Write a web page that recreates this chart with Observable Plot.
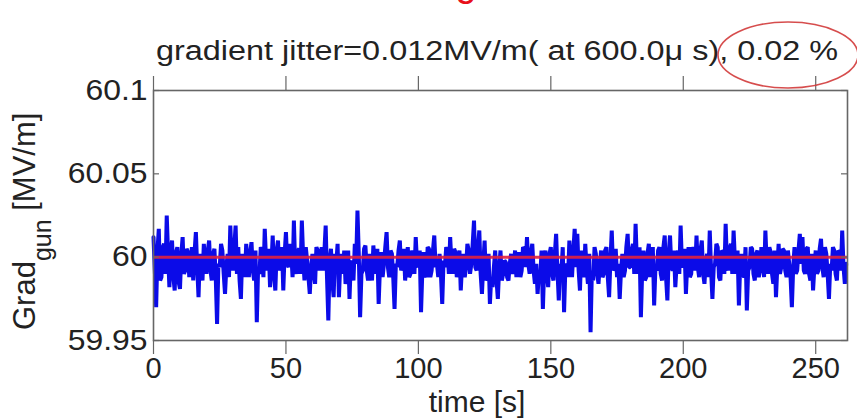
<!DOCTYPE html>
<html>
<head>
<meta charset="utf-8">
<script src="https://cdn.jsdelivr.net/npm/d3@7"></script>
<script src="https://cdn.jsdelivr.net/npm/@observablehq/plot@0.6"></script>
<style>
  html, body { margin: 0; padding: 0; background: #fff; }
  body { width: 857px; height: 419px; overflow: hidden; position: relative;
         font-family: "Liberation Sans", Arial, Helvetica, sans-serif; }
  #head { height: 70px; position: relative; }
  #head svg, #chart svg { display: block; }
  #overlay { position: absolute; left: 0; top: 0; pointer-events: none; }
</style>
</head>
<body>
<div id="head"></div>
<div id="chart"></div>
<script>
// ---------------- data ----------------
const titleText = "gradient jitter=0.012MV/m( at 600.0\u03bc s), 0.02 %";
const xLabel = "time [s]";
const yLabelMain = "Grad";
const yLabelSub = "gun";
const yLabelUnit = " [MV/m]";

const xDomain = [0, 262];
const yDomain = [59.95, 60.1];
const xTicks = [0, 50, 100, 150, 200, 250];
const xTickLabels = ["0", "50", "100", "150", "200", "250"];
const yTicks = [59.95, 60, 60.05, 60.1];
const yTickLabels = ["59.95", "60", "60.05", "60.1"];
const refLevel = [60];
const samplePeriod = 0.5; // s between samples

// gun gradient [MV/m], one sample every 0.5 s
const gradient = [
  60.012,59.992,59.970,60.004,60.017,59.986,59.988,60.006,60.008,59.990,60.025,60.002,59.982,60.004,60.010,59.988,59.980,60.003,60.006,59.985,
  59.981,60.002,60.012,59.990,59.992,60.005,60.003,59.988,59.998,60.006,59.986,60.003,60.015,59.994,59.976,60.002,59.995,59.986,60.008,59.996,
  59.990,60.004,60.010,59.992,59.986,60.002,60.005,59.988,59.960,59.996,59.994,60.008,60.004,59.990,59.978,59.994,60.002,59.988,60.019,59.998,
  59.992,60.006,60.019,59.990,60.006,59.986,59.975,60.002,59.997,59.988,60.008,59.996,59.988,60.003,60.009,59.992,59.986,60.004,59.961,59.994,
  59.990,60.006,60.004,59.988,60.017,59.998,59.992,60.005,59.982,59.994,60.013,59.990,59.980,60.004,60.010,59.992,59.996,60.006,59.980,60.002,
  60.015,59.996,59.994,60.008,60.003,59.988,60.022,59.994,59.990,60.004,60.005,59.990,60.022,60.000,59.986,60.006,59.998,59.988,59.978,59.994,
  60.002,59.990,59.984,60.006,60.004,59.992,60.000,60.006,59.992,60.003,60.019,59.988,59.962,59.998,60.005,59.986,59.976,60.002,59.996,60.008,
  59.976,59.996,60.002,59.990,60.004,59.984,59.988,60.004,59.975,59.998,59.995,59.986,60.008,59.996,60.028,60.002,59.964,59.990,59.992,60.005,
  60.007,59.992,59.986,60.002,59.994,59.986,60.007,59.996,59.990,60.005,59.972,59.994,60.003,59.988,59.996,60.006,60.015,59.994,59.988,60.004,
  60.002,59.988,59.969,59.996,59.994,60.004,60.010,59.992,59.996,60.005,59.986,59.998,60.006,59.988,59.990,60.004,60.001,59.990,60.012,59.996,
  59.994,60.004,59.967,59.992,60.003,59.990,59.988,60.006,60.005,59.988,59.992,60.004,60.013,59.994,59.996,59.988,60.002,59.990,59.972,59.998,
  59.994,60.006,60.004,59.990,60.012,59.996,59.990,60.005,60.003,59.988,59.992,60.004,59.980,59.996,60.002,59.988,59.994,60.008,60.004,59.990,
  59.996,60.008,60.022,59.994,59.992,60.006,60.016,59.990,59.978,59.996,60.010,59.986,59.988,60.002,59.972,59.988,59.982,59.994,60.004,59.986,
  59.975,59.994,60.004,59.986,59.990,59.998,59.997,59.988,59.986,59.996,60.002,59.990,59.994,60.004,59.988,59.998,60.003,59.988,59.992,60.006,
  60.005,59.994,60.012,59.996,59.990,60.003,60.008,59.992,59.984,59.996,59.978,59.990,59.988,60.004,59.969,59.994,60.004,59.990,59.982,60.002,
  60.006,59.990,59.986,60.002,60.014,59.992,59.974,59.996,59.992,60.006,59.967,59.994,59.996,59.988,60.010,59.996,59.988,60.004,60.017,59.994,
  60.014,59.992,59.980,60.004,59.994,59.988,60.008,59.994,59.984,60.002,59.955,59.992,59.986,60.006,60.002,59.990,59.984,59.996,60.004,59.988,
  59.990,60.004,60.006,59.988,59.976,59.998,60.016,59.992,59.994,60.005,59.988,59.996,59.975,59.992,60.002,59.988,59.992,60.006,60.014,59.994,
  59.994,60.004,60.008,59.990,60.020,59.996,59.990,60.006,59.964,59.992,60.004,59.986,59.988,60.002,60.008,59.988,59.996,60.006,59.971,59.994,
  59.992,60.004,60.006,59.990,59.986,60.006,60.013,59.988,59.974,60.002,60.013,59.994,59.992,60.004,59.982,59.996,60.004,59.990,60.019,59.996,
  59.994,60.005,59.978,59.996,60.006,59.988,59.990,60.006,60.004,59.992,60.013,59.994,59.988,60.004,60.010,59.990,59.984,59.998,60.002,59.988,
  60.016,59.992,59.975,59.994,59.996,60.008,60.006,59.988,59.986,60.004,60.003,59.990,60.020,59.996,59.992,60.005,60.008,59.990,60.016,59.998,
  59.990,60.004,59.971,59.996,60.002,59.990,59.988,60.006,59.968,59.992,59.994,60.006,60.005,59.990,59.986,60.002,60.004,59.988,59.992,60.006,
  60.002,59.988,60.016,59.996,59.990,60.006,60.003,59.990,59.984,60.004,59.976,59.994,60.008,59.990,59.994,60.005,60.004,59.992,59.988,60.004,
  59.996,59.988,59.970,59.994,60.006,59.990,59.992,60.004,60.014,59.996,60.012,59.992,59.990,60.005,60.006,59.990,59.986,60.002,59.980,59.994,
  60.004,59.990,59.992,60.005,60.011,59.994,59.988,60.006,60.002,59.990,59.975,59.996,59.992,60.006,60.004,59.990,59.986,60.004,60.003,59.992,60.016,59.994,59.984,59.996
];

// ---------------- header (title) ----------------
const FONT = "'Liberation Sans', Arial, Helvetica, sans-serif";
const head = d3.select("#head").append("svg").attr("width", 857).attr("height", 70);
head.append("text")
  .attr("x", 466).attr("y", -4)
  .attr("text-anchor", "middle")
  .attr("font-family", FONT).attr("font-size", 38)
  .attr("fill", "#e8101a")
  .text("g");
head.append("text")
  .attr("x", 497).attr("y", 60)
  .attr("text-anchor", "middle")
  .attr("font-family", FONT).attr("font-size", 27)
  .attr("fill", "#222")
  .attr("textLength", 682).attr("lengthAdjust", "spacingAndGlyphs")
  .text(titleText);

// ---------------- chart ----------------
const chart = Plot.plot({
  width: 857,
  height: 349,
  marginTop: 20,
  marginBottom: 79,
  marginLeft: 153,
  marginRight: 10,
  x: {domain: xDomain},
  y: {domain: yDomain},
  style: {fontFamily: FONT, fontSize: "29px", color: "#222", background: "#fff"},
  marks: [
    Plot.lineY(gradient, {x: (d, i) => i * samplePeriod, y: d => d,
      stroke: "#0b0be8", strokeWidth: 4, strokeLinejoin: "miter"}),
    Plot.ruleY(refLevel, {stroke: "#e2203e", strokeWidth: 3, strokeOpacity: 0.9}),
    Plot.frame({stroke: "#666", strokeWidth: 1.6}),
    // inward MATLAB-style ticks
    Plot.tickX(xTicks, {x: d => d, stroke: "#666", strokeWidth: 1.2, insetTop: 264}),
    Plot.tickX(xTicks, {x: d => d, stroke: "#666", strokeWidth: 1.2, insetBottom: 264}),
    Plot.tickY(yTicks, {y: d => d, stroke: "#666", strokeWidth: 1.2, insetRight: 688}),
    Plot.tickY(yTicks, {y: d => d, stroke: "#666", strokeWidth: 1.2, insetLeft: 688}),
    Plot.axisX(xTicks, {anchor: "bottom", tickSize: 0, tickPadding: 17, label: null,
      tickFormat: d => xTickLabels[xTicks.indexOf(d)], fill: "#222"}),
    Plot.axisY(yTicks, {anchor: "left", tickSize: 0, tickPadding: 6, label: null,
      tickFormat: d => yTickLabels[yTicks.indexOf(d)], fill: "#222"})
  ]
});
document.getElementById("chart").appendChild(chart);

const svg = d3.select(chart);
// widen the y tick labels slightly, like the reference rendering
svg.selectAll("g[aria-label='y-axis tick label'] text").each(function () {
  const len = this.getComputedTextLength();
  if (len > 0) {
    this.setAttribute("textLength", (len * 1.1).toFixed(1));
    this.setAttribute("lengthAdjust", "spacingAndGlyphs");
  }
});

// y label with subscript
const yl = svg.append("text")
  .attr("transform", "translate(35,260) rotate(-90)")
  .attr("text-anchor", "start")
  .attr("font-family", FONT).attr("font-size", 31).attr("fill", "#222");
yl.append("tspan").text(yLabelMain);
yl.append("tspan").attr("dy", 16).attr("font-size", 25).text(yLabelSub);
yl.append("tspan").attr("dy", -16).text(yLabelUnit);

// x label
svg.append("text")
  .attr("x", 477).attr("y", 342)
  .attr("text-anchor", "middle")
  .attr("font-family", FONT).attr("font-size", 30).attr("fill", "#222")
  .text(xLabel);

// ---------------- annotation ellipse ----------------
const ov = d3.select("body").append("svg").attr("id", "overlay")
  .attr("width", 857).attr("height", 419);
ov.append("ellipse")
  .attr("cx", 788).attr("cy", 55).attr("rx", 70).attr("ry", 33)
  .attr("fill", "none").attr("stroke", "#d23a3a").attr("stroke-width", 1.6)
  .attr("stroke-opacity", 0.9);
</script>
</body>
</html>
